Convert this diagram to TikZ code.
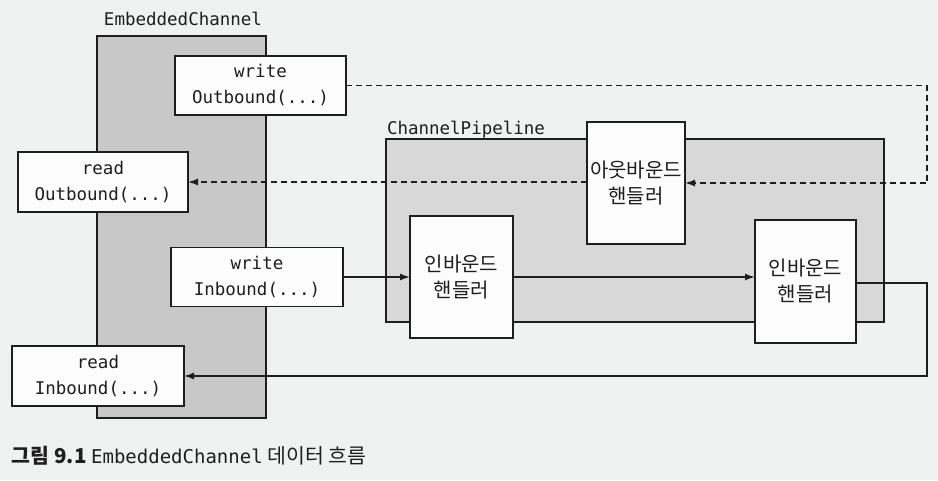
\documentclass[tikz,border=0pt]{standalone}
\usepackage{fontspec}
\setmonofont{DejaVu Sans Mono}
\newfontfamily\kr{Noto Sans CJK KR}
\usetikzlibrary{arrows.meta}
\definecolor{paper}{RGB}{240,241,241}
\definecolor{chgray}{RGB}{200,200,200}
\definecolor{pipegray}{RGB}{216,216,216}
\definecolor{boxwhite}{RGB}{252,252,252}
\definecolor{ink}{RGB}{30,30,30}

\begin{document}
\begin{tikzpicture}[x=1pt,y=-1pt,
	every node/.style={inner sep=0pt,outer sep=0pt,ink},
	call/.style={draw=ink,line width=1.5pt,fill=boxwhite,align=center,
		font=\ttfamily\fontsize{17.5}{26}\selectfont},
	handler/.style={draw=ink,line width=1.5pt,fill=boxwhite,align=center,
		font=\kr\fontsize{20}{26}\selectfont,minimum width=100pt,minimum height=122pt},
	container/.style={draw=ink,line width=1.5pt},
	flow/.style={draw=ink,line width=1.5pt,-{Latex[length=10pt,width=7pt]}},
	dflow/.style={flow,dash pattern=on 6pt off 4pt}
	]
	\useasboundingbox[fill=paper] (0,0) rectangle (938,480);
	
	%containers
	\node[container,fill=chgray,minimum width=169pt,minimum height=382pt] (channel) at (181.5,227) {};
	\node[font=\ttfamily\fontsize{17.5}{20}\selectfont,anchor=base] (channelLabel) at (183,25) {EmbeddedChannel};
	\node[container,fill=pipegray,minimum width=498pt,minimum height=183pt] (pipeline) at (635,230.5) {};
	\node[font=\ttfamily\fontsize{17.5}{20}\selectfont,anchor=base west] (pipeLabel) at (387,134) {ChannelPipeline};
	
	%calls on the channel
	\node[call,minimum width=171pt,minimum height=59pt] (wOut) at (260.5,85.5) {write\\Outbound(...)};
	\node[call,minimum width=170pt,minimum height=60pt] (rOut) at (103,182) {read\\Outbound(...)};
	\node[call,minimum width=172pt,minimum height=59pt] (wIn) at (257,277) {write\\Inbound(...)};
	\node[call,minimum width=172pt,minimum height=60pt] (rIn) at (98,376) {read\\Inbound(...)};
	
	%handlers
	\node[handler,minimum width=98pt] (outH) at (636,183) {아웃바운드\\핸들러};
	\node[handler,minimum width=103pt] (inA) at (461.5,277) {인바운드\\핸들러};
	\node[handler,minimum width=101pt,minimum height=123pt] (inB) at (805.5,281.5) {인바운드\\핸들러};
	
	%corners of the return paths
	\coordinate (outTop) at (927,85.5);
	\coordinate (inLow) at (927,376);
	
	%outbound flow
	\draw[dflow] (wOut.east) -- (outTop) -- (outTop |- outH.east) -- (outH.east);
	\draw[dflow] (outH.west |- rOut.east) -- (rOut.east);
	
	%inbound flow
	\draw[flow] (wIn.east) -- (inA.west);
	\draw[flow] (inA.east) -- (inB.west |- inA.east);
	\draw[flow] (inB.east |- 0,283) -- (inLow |- 0,283) -- (inLow) -- (rIn.east);
	
	%caption
	\node[anchor=base west,font=\kr\fontsize{20.5}{24}\selectfont] (caption) at (12,463)
		{\textbf{그림 9.1} {\ttfamily\fontsize{19}{24}\selectfont EmbeddedChannel} 데이터 흐름};
\end{tikzpicture}
\end{document}
